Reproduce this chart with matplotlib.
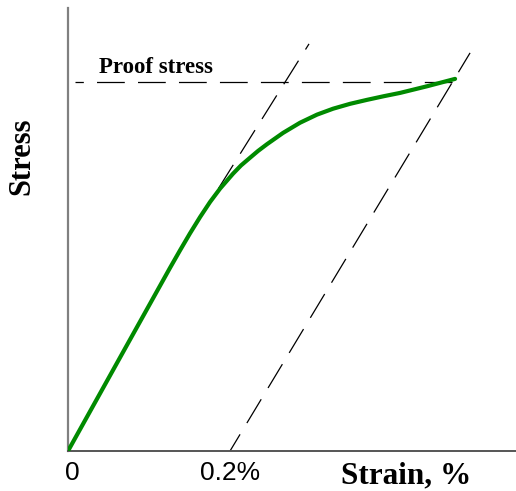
import matplotlib
matplotlib.use("Agg")
import matplotlib.pyplot as plt
import matplotlib.transforms as mtransforms

plt.rcParams["lines.scale_dashes"] = False

# Stress-strain curve (strain in %, stress in MPa)
curve_strain = [0.0000, 0.0691, 0.1136, 0.1259, 0.1383, 0.1506, 0.1630,
                0.1753, 0.1877, 0.2037, 0.2136, 0.2247, 0.2346, 0.2457,
                0.2654, 0.2864, 0.3074, 0.3272, 0.3481, 0.3691, 0.3901,
                0.4099, 0.4432, 0.4778]
curve_stress = [0.0, 68.1, 111.9, 124.0, 135.9, 147.4, 158.4,
                168.6, 177.7, 187.8, 193.4, 198.6, 203.2, 207.8,
                215.4, 222.3, 227.8, 231.8, 235.1, 237.8, 240.3,
                242.5, 247.0, 252.0]

# Construction lines
elastic_strain = [0.1321, 0.2975]
elastic_stress = [130.8, 275.7]
offset_strain = [0.2, 0.4963]
offset_stress = [0.0, 269.6]
proof_stress = 250.0
proof_line_strain = [0.009, 0.478]

tick_positions = [0.0, 0.2]
tick_labels = ["0", "0.2%"]

W, H = 516, 491
fig = plt.figure(figsize=(W / 100, H / 100), dpi=100)
ax = fig.add_axes([68 / W, 40 / H, 448 / W, 443 / H])

ax.set_xlim(0, 0.553)
ax.set_ylim(0, 300)

on_off = (20, 9.5)
ax.plot(elastic_strain, elastic_stress, color="black", lw=0.9,
        linestyle=(0, on_off), zorder=2)
ax.plot(offset_strain, offset_stress, color="black", lw=0.9,
        linestyle=(6, on_off), zorder=2)
ax.plot(proof_line_strain, [proof_stress, proof_stress], color="black",
        lw=0.9, linestyle=(14, on_off), zorder=2)

ax.plot(curve_strain, curve_stress, color="#008a00", lw=3.0,
        solid_joinstyle="round", solid_capstyle="round", zorder=3)

ax.text(0.038, proof_stress + 6, "Proof stress", family="Liberation Serif",
        fontweight="bold", fontsize=16.5, ha="left", va="baseline")

for side in ("top", "right"):
    ax.spines[side].set_visible(False)
ax.spines["left"].set_color("#808080")
ax.spines["left"].set_linewidth(1.6)
ax.spines["bottom"].set_color("#555555")
ax.spines["bottom"].set_linewidth(1.4)

ax.set_yticks([])
ax.set_xticks(tick_positions)
ax.set_xticklabels(tick_labels, family="Liberation Sans", fontsize=19)
ax.tick_params(axis="x", length=0, pad=7)

# nudge the "0" label a little to the right of the origin
zero_label = ax.xaxis.get_major_ticks()[0].label1
zero_label.set_transform(zero_label.get_transform()
                         + mtransforms.ScaledTranslation(0.04, 0, fig.dpi_scale_trans))

ax.set_xlabel("Strain, %", family="Liberation Serif", fontweight="bold",
              fontsize=22.5, va="baseline", ha="center")
ax.xaxis.set_label_coords(0.754, -0.0722)
ax.set_ylabel("Stress", family="Liberation Serif", fontweight="bold",
              fontsize=22, va="center", ha="center")
ax.yaxis.set_label_coords(-0.1038, 0.665)

fig.savefig("out.png", dpi=100)
